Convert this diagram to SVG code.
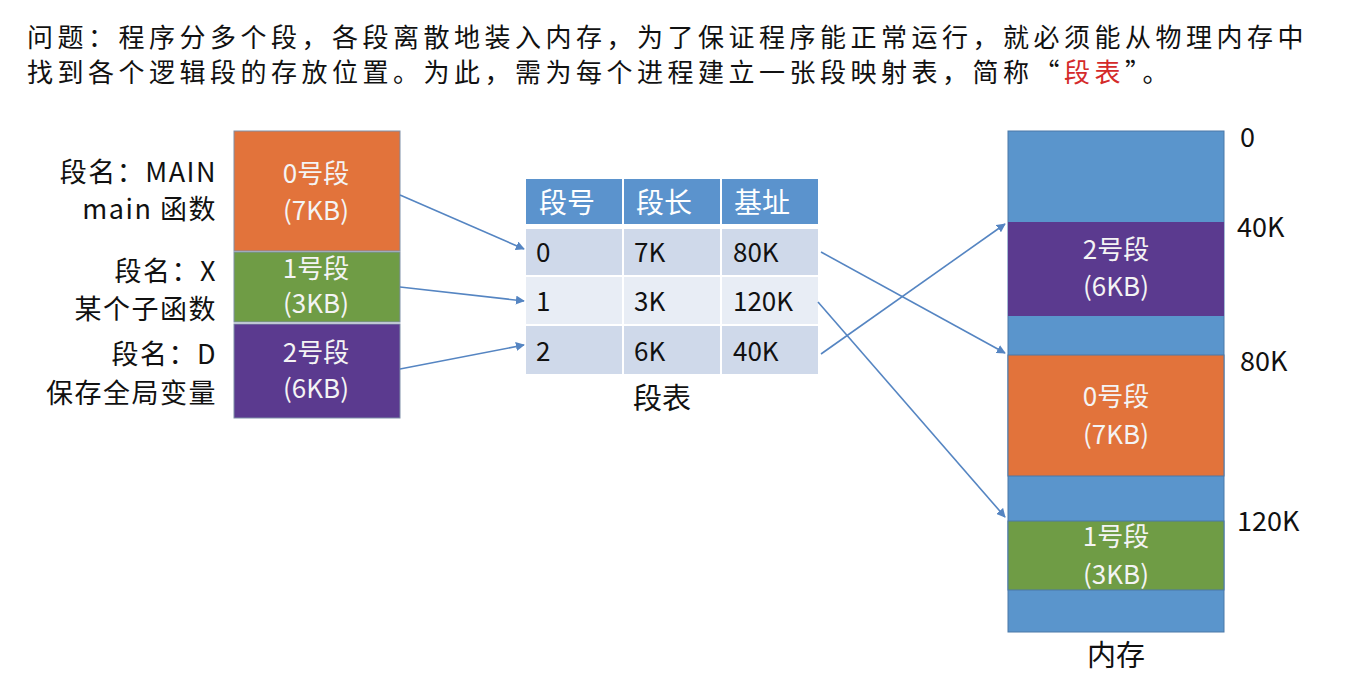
<svg xmlns="http://www.w3.org/2000/svg" width="1364" height="678" viewBox="0 0 1364 678">
<defs>
<style>
.t{font-family:"Noto Sans CJK SC","Noto Sans",sans-serif;}
.top{font-size:26px;letter-spacing:4.5px;fill:#111;}
.lab{font-size:27px;letter-spacing:1.5px;fill:#111;text-anchor:end;}
.seg{font-size:26px;fill:#f4f4f4;text-anchor:middle;}
.hd{font-size:28px;fill:#ffffff;}
.cell{font-size:26px;fill:#111;}
.addr{font-size:27px;fill:#111;}
.cap{font-size:29px;fill:#111;text-anchor:middle;}
.conn{stroke:#5585c2;stroke-width:1.6;fill:none;marker-end:url(#ah);}
</style>
<marker id="ah" viewBox="0 0 10 10" refX="9" refY="5" markerWidth="9" markerHeight="9" markerUnits="userSpaceOnUse" orient="auto">
<path d="M0,0 L10,5 L0,10 z" fill="#5585c2"/>
</marker>
</defs>
<rect width="1364" height="678" fill="#ffffff"/>
<g id="title" class="t">
<text class="top" x="27" y="47">问题：程序分多个段，各段离散地装入内存，为了保证程序能正常运行，就必须能从物理内存中</text>
<text class="top" x="27" y="82">找到各个逻辑段的存放位置。为此，需为每个进程建立一张段映射表，简称“<tspan fill="#d42a2a">段表</tspan>”。</text>
</g>
<g id="program" class="t">
<g id="seg0">
<rect x="234" y="131" width="166" height="120" fill="#e2733b" stroke="#7f8fa8" stroke-width="1"/>
<text class="seg" x="316" y="183">0号段</text>
<text class="seg" x="316" y="220">(7KB)</text>
<text class="lab" x="217" y="182">段名：MAIN</text>
<text class="lab" x="217" y="219">main 函数</text>
</g>
<g id="seg1">
<rect x="234" y="252" width="166" height="70" fill="#6f9c45" stroke="#7f8fa8" stroke-width="1"/>
<text class="seg" x="316" y="278">1号段</text>
<text class="seg" x="316" y="313">(3KB)</text>
<text class="lab" x="217" y="281">段名：X</text>
<text class="lab" x="217" y="319">某个子函数</text>
</g>
<g id="seg2">
<rect x="234" y="324" width="166" height="94" fill="#5b3a8f" stroke="#7f8fa8" stroke-width="1"/>
<text class="seg" x="316" y="362">2号段</text>
<text class="seg" x="316" y="398">(6KB)</text>
<text class="lab" x="217" y="364">段名：D</text>
<text class="lab" x="217" y="403">保存全局变量</text>
</g>
</g>
<g id="segtable" class="t">
<rect x="526" y="179" width="96" height="45" fill="#5b93cd"/>
<rect x="624" y="179" width="96" height="45" fill="#5b93cd"/>
<rect x="722" y="179" width="96" height="45" fill="#5b93cd"/>
<text class="hd" x="539" y="213">段号</text>
<text class="hd" x="636" y="213">段长</text>
<text class="hd" x="734" y="213">基址</text>
<rect x="526" y="229" width="96" height="46" fill="#cfd9ea"/>
<rect x="624" y="229" width="96" height="46" fill="#cfd9ea"/>
<rect x="722" y="229" width="96" height="46" fill="#cfd9ea"/>
<rect x="526" y="277" width="96" height="47" fill="#e8edf5"/>
<rect x="624" y="277" width="96" height="47" fill="#e8edf5"/>
<rect x="722" y="277" width="96" height="47" fill="#e8edf5"/>
<rect x="526" y="326" width="96" height="48" fill="#cfd9ea"/>
<rect x="624" y="326" width="96" height="48" fill="#cfd9ea"/>
<rect x="722" y="326" width="96" height="48" fill="#cfd9ea"/>
<text class="cell" x="536" y="262">0</text>
<text class="cell" x="634" y="262">7K</text>
<text class="cell" x="733" y="262">80K</text>
<text class="cell" x="536" y="311">1</text>
<text class="cell" x="634" y="311">3K</text>
<text class="cell" x="733" y="311">120K</text>
<text class="cell" x="536" y="361">2</text>
<text class="cell" x="634" y="361">6K</text>
<text class="cell" x="733" y="361">40K</text>
<text class="cap" x="662" y="409">段表</text>
</g>
<g id="memory" class="t">
<rect x="1008" y="131" width="216" height="501" fill="#5a95cc" stroke="#4a78a8" stroke-width="1"/>
<g id="mem-seg2">
<rect x="1008" y="222" width="216" height="94" fill="#5b3a8f"/>
<text class="seg" x="1116" y="259">2号段</text>
<text class="seg" x="1116" y="296">(6KB)</text>
</g>
<g id="mem-seg0">
<rect x="1008" y="355" width="216" height="121" fill="#e2733b" stroke="#4a78a8" stroke-width="1"/>
<text class="seg" x="1116" y="406">0号段</text>
<text class="seg" x="1116" y="444">(7KB)</text>
</g>
<g id="mem-seg1">
<rect x="1008" y="521" width="216" height="69" fill="#6f9c45" stroke="#4a78a8" stroke-width="1"/>
<text class="seg" x="1116" y="546">1号段</text>
<text class="seg" x="1116" y="584">(3KB)</text>
</g>
<text class="addr" x="1240" y="147">0</text>
<text class="addr" x="1237" y="237">40K</text>
<text class="addr" x="1240" y="371">80K</text>
<text class="addr" x="1237" y="531">120K</text>
<text class="cap" x="1116" y="666">内存</text>
</g>
<g id="connectors">
<line class="conn" x1="400" y1="195" x2="524" y2="249"/>
<line class="conn" x1="400" y1="287" x2="524" y2="301"/>
<line class="conn" x1="400" y1="369" x2="524" y2="345"/>
<line class="conn" x1="821" y1="252" x2="1005" y2="353"/>
<line class="conn" x1="818" y1="302" x2="1005" y2="517"/>
<line class="conn" x1="821" y1="354" x2="1005" y2="224"/>
</g>
</svg>
